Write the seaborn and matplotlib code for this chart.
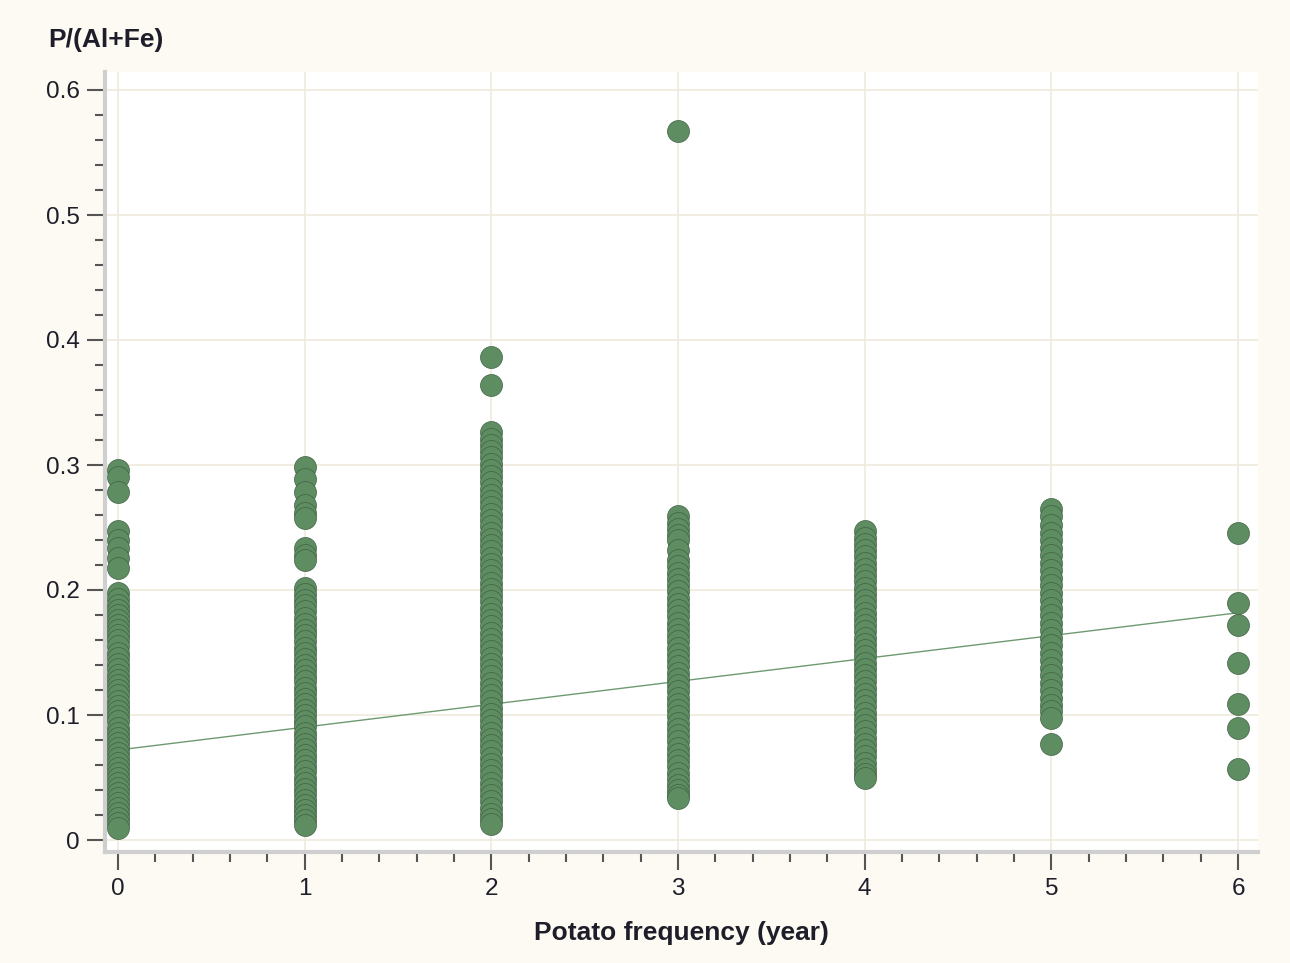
import numpy as np
import pandas as pd
import matplotlib
matplotlib.use("Agg")
import matplotlib.pyplot as plt
from matplotlib.ticker import MultipleLocator
import seaborn as sns

# P/(Al+Fe) values, one list per potato frequency
freq_0 = [0.296, 0.290, 0.278, 0.247, 0.240, 0.234, 0.226, 0.218,
          0.198, 0.193, 0.188, 0.184, 0.180, 0.176, 0.172, 0.168, 0.164,
          0.160, 0.155, 0.150, 0.146, 0.141, 0.137, 0.132, 0.128, 0.124,
          0.120, 0.116, 0.111, 0.107, 0.103, 0.099, 0.095, 0.090, 0.086,
          0.082, 0.078, 0.074, 0.070, 0.066, 0.062, 0.058, 0.054, 0.050,
          0.046, 0.042, 0.038, 0.034, 0.030, 0.026, 0.022, 0.018, 0.014,
          0.010]
freq_1 = [0.298, 0.289, 0.278, 0.268, 0.262, 0.258, 0.234, 0.228, 0.224,
          0.202, 0.197, 0.192, 0.188, 0.183, 0.178, 0.173, 0.168, 0.164,
          0.159, 0.154, 0.150, 0.145, 0.140, 0.136, 0.131, 0.127, 0.122,
          0.118, 0.113, 0.109, 0.104, 0.100, 0.095, 0.091, 0.086, 0.082,
          0.077, 0.073, 0.068, 0.064, 0.059, 0.055, 0.050, 0.046, 0.041,
          0.037, 0.032, 0.028, 0.024, 0.020, 0.016, 0.012]
freq_2 = [0.386, 0.364, 0.326, 0.321, 0.316, 0.311, 0.306, 0.301, 0.296,
          0.291, 0.286, 0.281, 0.276, 0.271, 0.266, 0.261, 0.256, 0.251,
          0.246, 0.241, 0.236, 0.231, 0.226, 0.221, 0.216, 0.211, 0.206,
          0.201, 0.196, 0.191, 0.186, 0.181, 0.176, 0.171, 0.166, 0.161,
          0.156, 0.151, 0.146, 0.141, 0.136, 0.131, 0.126, 0.121, 0.116,
          0.111, 0.106, 0.101, 0.096, 0.091, 0.086, 0.081, 0.076, 0.071,
          0.066, 0.061, 0.056, 0.051, 0.046, 0.041, 0.036, 0.031, 0.026,
          0.021, 0.017, 0.013]
freq_3 = [0.567, 0.259, 0.254, 0.249, 0.244, 0.240, 0.232, 0.224, 0.219,
          0.214, 0.209, 0.204, 0.199, 0.194, 0.189, 0.184, 0.179, 0.174,
          0.169, 0.164, 0.159, 0.154, 0.149, 0.144, 0.139, 0.134, 0.129,
          0.124, 0.119, 0.114, 0.109, 0.104, 0.099, 0.094, 0.089, 0.084,
          0.079, 0.074, 0.069, 0.064, 0.059, 0.054, 0.049, 0.044, 0.040,
          0.036, 0.034]
freq_4 = [0.247, 0.242, 0.237, 0.232, 0.227, 0.222, 0.217, 0.212, 0.207,
          0.202, 0.197, 0.192, 0.187, 0.182, 0.177, 0.172, 0.167, 0.162,
          0.157, 0.152, 0.147, 0.142, 0.137, 0.132, 0.127, 0.122, 0.117,
          0.112, 0.107, 0.102, 0.097, 0.092, 0.087, 0.082, 0.077, 0.072,
          0.067, 0.062, 0.057, 0.053, 0.050]
freq_5 = [0.265, 0.259, 0.252, 0.246, 0.240, 0.234, 0.228, 0.222, 0.216,
          0.210, 0.204, 0.198, 0.192, 0.186, 0.180, 0.174, 0.168, 0.162,
          0.156, 0.150, 0.144, 0.138, 0.132, 0.126, 0.120, 0.114, 0.108,
          0.103, 0.098, 0.077]
freq_6 = [0.246, 0.190, 0.172, 0.142, 0.109, 0.090, 0.057]

groups = [freq_0, freq_1, freq_2, freq_3, freq_4, freq_5, freq_6]
frequencies = [0, 1, 2, 3, 4, 5, 6]

# fitted line
fit_intercept = 0.072
fit_slope = 0.0183

df = pd.DataFrame({
    "freq": np.concatenate([[f] * len(g) for f, g in zip(frequencies, groups)]),
    "ratio": np.concatenate(groups),
})

sns.set_style("white")
plt.rcParams["font.family"] = ["Liberation Sans", "DejaVu Sans"]

bg = "#FDFAF3"
fig = plt.figure(figsize=(12.9, 9.63), dpi=100, facecolor=bg)
ax = fig.add_axes([105 / 1290, 1 - 852 / 963, (1258 - 105) / 1290, (852 - 72) / 963])
ax.set_facecolor("white")

fit_x = np.array([0, 6])
sns.lineplot(x=fit_x, y=fit_intercept + fit_slope * fit_x, ax=ax,
             color="#6E9A71", linewidth=1.0, zorder=2)

sns.scatterplot(data=df, x="freq", y="ratio", ax=ax, s=250,
                color="#5F8D62", edgecolor="#3F6043", linewidth=0.5,
                zorder=3, legend=False)

ax.set_xlim(-0.07, 6.107)
ax.set_ylim(-0.0096, 0.6144)

ax.xaxis.set_major_locator(MultipleLocator(1))
ax.xaxis.set_minor_locator(MultipleLocator(0.2))
ax.yaxis.set_minor_locator(MultipleLocator(0.02))
ax.set_yticks([0, 0.1, 0.2, 0.3, 0.4, 0.5, 0.6])
ax.set_yticklabels(["0", "0.1", "0.2", "0.3", "0.4", "0.5", "0.6"])

ax.grid(True, which="major", color="#EFEBDC", linewidth=1.2, zorder=0)
ax.set_axisbelow(True)

for side in ["top", "right"]:
    ax.spines[side].set_visible(False)
for side in ["left", "bottom"]:
    ax.spines[side].set_color("#CFCFCF")
    ax.spines[side].set_linewidth(3)

ax.tick_params(which="major", direction="out", length=13, width=1.5,
               color="#555555", labelsize=17.5, labelcolor="#1E1E2A")
ax.tick_params(which="minor", direction="out", length=7, width=1.5,
               color="#555555")
ax.tick_params(axis="x", which="both", bottom=True, pad=6)
ax.tick_params(axis="y", which="both", left=True, pad=5)

ax.set_xlabel("Potato frequency (year)", fontsize=19, fontweight="bold",
              color="#1E1E2A", labelpad=15)
ax.set_ylabel("")
fig.text(48 / 1290, 1 - 40 / 963, "P/(Al+Fe)", fontsize=19, fontweight="bold",
         color="#1E1E2A", ha="left", va="center")

fig.savefig("out.png", dpi=100, facecolor=bg)
